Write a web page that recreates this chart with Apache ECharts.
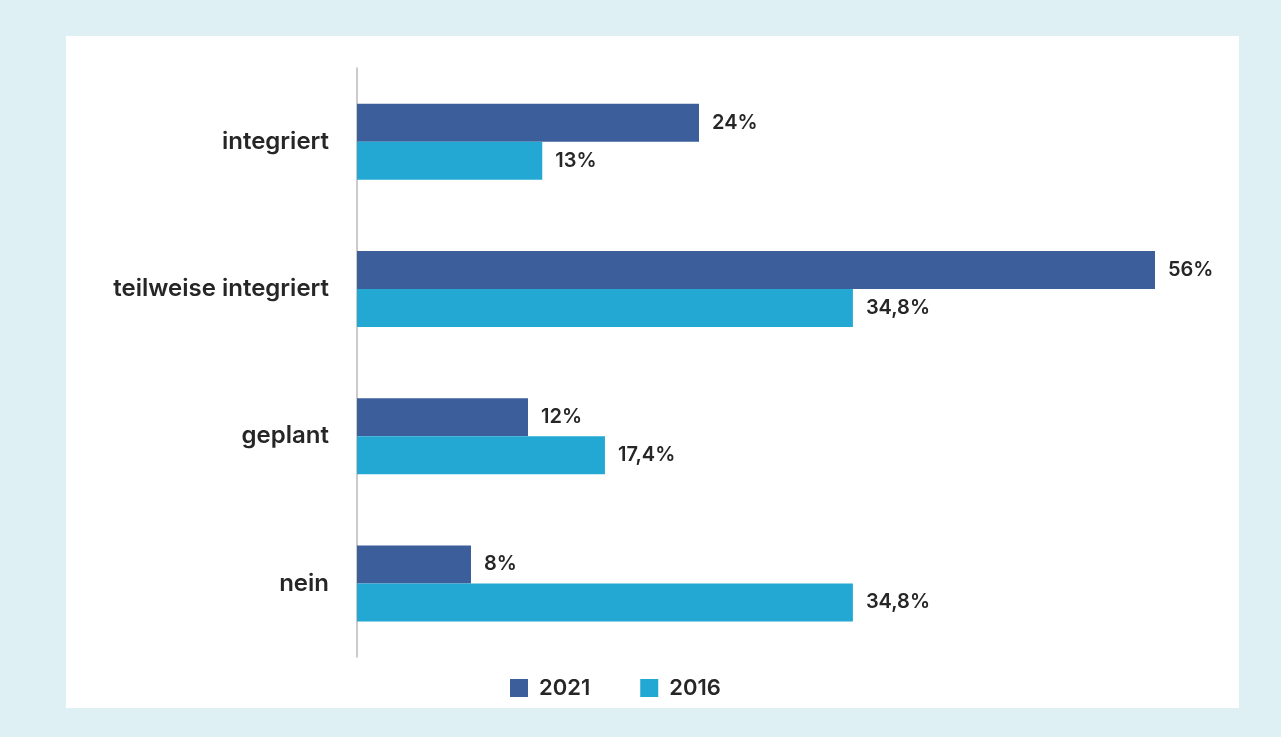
<!DOCTYPE html>
<html>
<head>
<meta charset="utf-8">
<script src="https://cdn.jsdelivr.net/npm/echarts@6/dist/echarts.min.js"></script>
<style>
  html, body { margin: 0; padding: 0; background: #dff0f5; }
  #chart { width: 1281px; height: 737px; }
</style>
</head>
<body>
<div id="chart"></div>
<script>
// Integration status by category, share of respondents in percent
const categories = ['integriert', 'teilweise integriert', 'geplant', 'nein'];
const values2021 = [24, 56, 12, 8];
const values2016 = [13, 34.8, 17.4, 34.8];
const seriesNames = ['2021', '2016'];

const FONT = 'Inter, "Noto Sans", sans-serif';
const TEXT = '#262626';
const fmt = p => String(p.value).replace('.', ',') + '%';

const valueLabel = {
  show: true, position: 'right', distance: 13, formatter: fmt,
  fontFamily: FONT, fontSize: 20, fontWeight: 600, color: TEXT
};

const chart = echarts.init(document.getElementById('chart'));
chart.setOption({
  backgroundColor: '#dff0f5',
  animation: false,
  graphic: [{
    type: 'rect',
    z: -10,
    shape: { x: 66, y: 36, width: 1173, height: 672 },
    style: { fill: '#ffffff' }
  }],
  legend: {
    data: seriesNames,
    left: 505,
    top: 672,
    itemWidth: 18,
    itemHeight: 18,
    itemGap: 50,
    icon: 'rect',
    textStyle: { fontFamily: FONT, fontSize: 22, fontWeight: 600, color: TEXT, padding: [0, 0, 0, 6] }
  },
  grid: { left: 357, right: 126, top: 68, bottom: 80, containLabel: false },
  xAxis: {
    type: 'value',
    min: 0,
    max: 56,
    show: false
  },
  yAxis: {
    type: 'category',
    data: categories,
    inverse: true,
    axisLine: { show: true, lineStyle: { color: '#bfb8b8', width: 1.5 } },
    axisTick: { show: false },
    axisLabel: { fontFamily: FONT, fontSize: 24, fontWeight: 600, color: TEXT, margin: 28 }
  },
  series: [
    {
      name: seriesNames[0],
      type: 'bar',
      data: values2021,
      barWidth: 38,
      barGap: '0%',
      itemStyle: { color: '#3c5f9c' },
      label: valueLabel
    },
    {
      name: seriesNames[1],
      type: 'bar',
      data: values2016,
      barWidth: 38,
      barGap: '0%',
      itemStyle: { color: '#23a8d4' },
      label: valueLabel
    }
  ]
});
</script>
</body>
</html>
